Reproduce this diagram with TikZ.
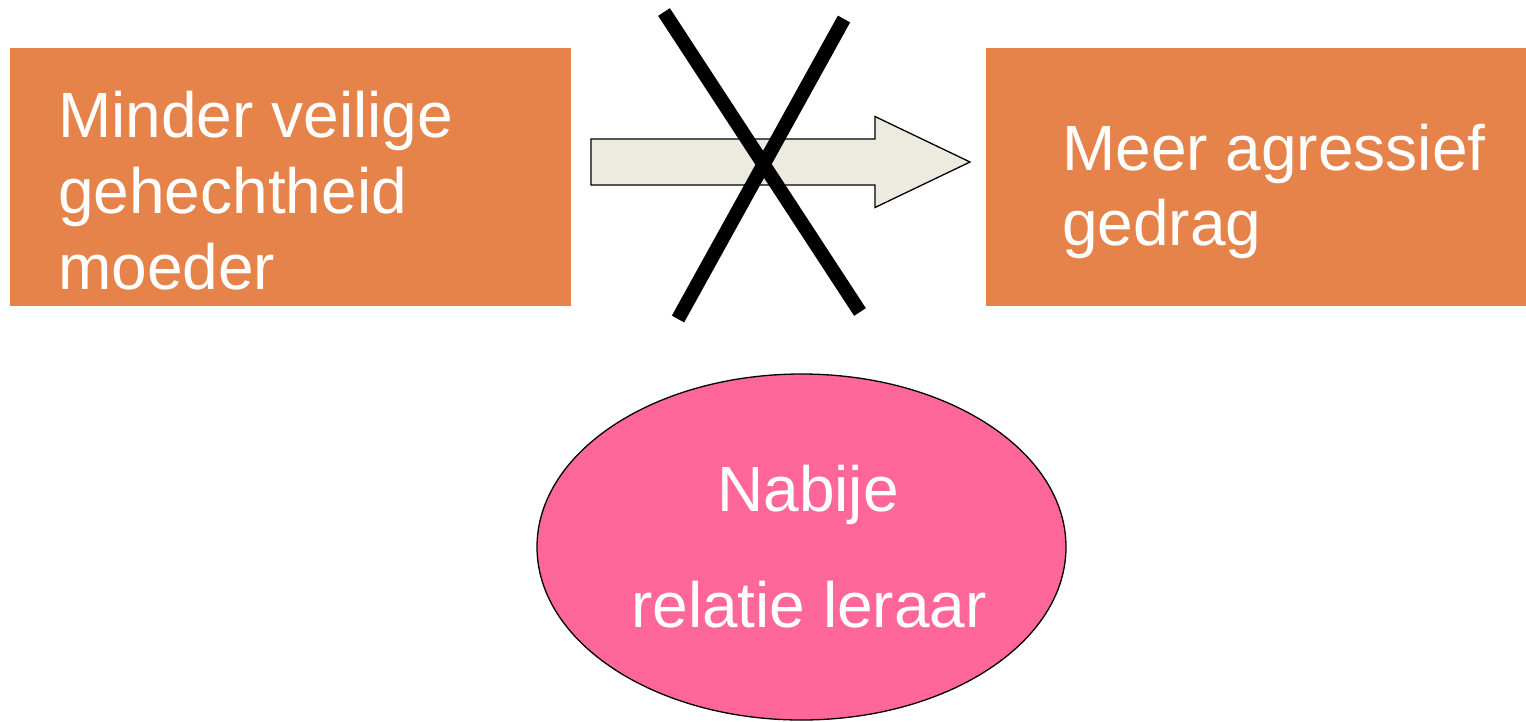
\documentclass[tikz,border=0pt]{standalone}
\usepackage{fontspec}
\setmainfont{Liberation Sans}
\usetikzlibrary{shapes.geometric}
\definecolor{boxorange}{RGB}{229,131,74}
\definecolor{ellpink}{RGB}{255,102,153}
\definecolor{arrowfill}{RGB}{237,235,224}
\tikzset{
  orangebox/.style={fill=boxorange, draw=none, inner sep=0pt, anchor=north west},
  bigtext/.style={text=white, inner sep=0pt, font=\fontsize{64}{76}\selectfont},
  crossline/.style={line width=14pt, draw=black, line cap=butt},
  blockarrow/.style={fill=arrowfill, draw=black, line width=1.3pt, line join=miter},
  pinkell/.style={ellipse, fill=ellpink, draw=black, line width=1.3pt, inner sep=0pt}
}
\begin{document}
\begin{tikzpicture}[x=1pt,y=-1pt]
\useasboundingbox (0,0) rectangle (1526,721);
% boxes
\node[orangebox, minimum width=561pt, minimum height=258pt] (L) at (10,48) {};
\node[orangebox, minimum width=540pt, minimum height=258pt] (R) at (986,48) {};
% left text
\node[bigtext, anchor=base west] (l1) at (58,137) {Minder veilige};
\node[bigtext, anchor=base west] (l2) at (58,213) {gehechtheid};
\node[bigtext, anchor=base west] (l3) at (58,289) {moeder};
% right text
\node[bigtext, anchor=base west] (r1) at (1062,170) {Meer agressief};
\node[bigtext, anchor=base west] (r2) at (1062,245) {gedrag};
% block arrow
\coordinate (a1) at (591,139);
\coordinate (a2) at (875,139);
\coordinate (a3) at (875,116.5);
\coordinate (tip) at (970,162);
\coordinate (a4) at (875,207.5);
\coordinate (a5) at (875,185);
\coordinate (a6) at (591,185);
\draw[blockarrow] (a1) -- (a2) -- (a3) -- (tip) -- (a4) -- (a5) -- (a6) -- cycle;
% cross
\coordinate (x1a) at (664,12);
\coordinate (x1b) at (860,312);
\coordinate (x2a) at (844,19);
\coordinate (x2b) at (678,319);
\draw[crossline] (x1a) -- (x1b);
\draw[crossline] (x2a) -- (x2b);
% ellipse
\node[pinkell, minimum width=529pt, minimum height=346pt] (E) at (801.5,547) {};
\node[bigtext, anchor=base] (e1) at (808,511) {Nabije};
\node[bigtext, anchor=base] (e2) at (809,627) {relatie leraar};
\end{tikzpicture}
\end{document}
